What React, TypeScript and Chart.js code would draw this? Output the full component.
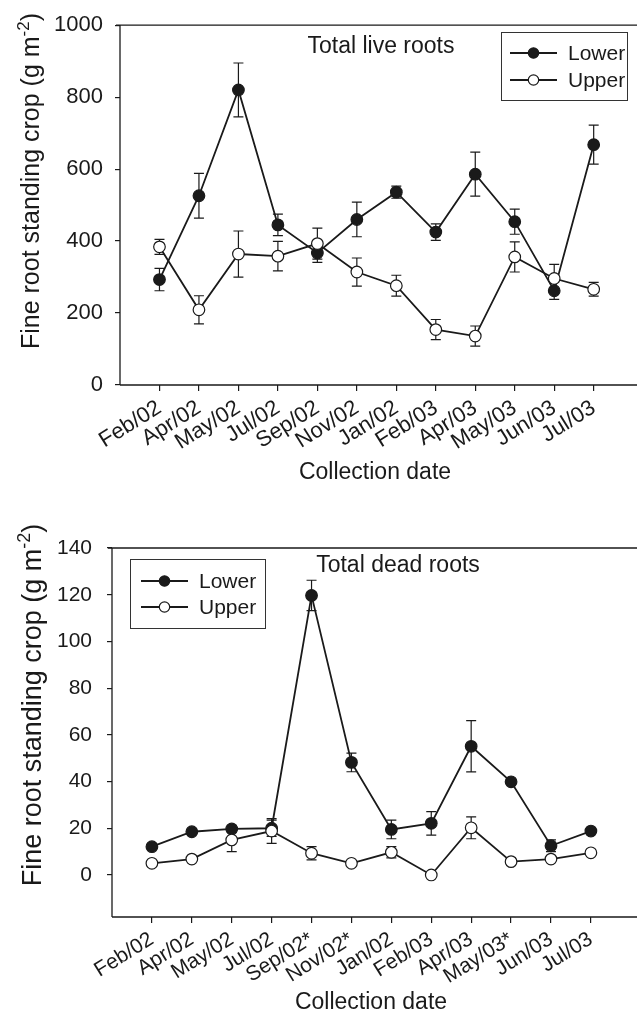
import React, { useEffect, useRef } from 'react';
import { Chart, registerables } from 'chart.js';

Chart.register(...registerables);

// ---- data ----
const liveCategories = ['Feb/02', 'Apr/02', 'May/02', 'Jul/02', 'Sep/02', 'Nov/02', 'Jan/02', 'Feb/03', 'Apr/03', 'May/03', 'Jun/03', 'Jul/03'];
const deadCategories = ['Feb/02', 'Apr/02', 'May/02', 'Jul/02', 'Sep/02*', 'Nov/02*', 'Jan/02', 'Feb/03', 'Apr/03', 'May/03*', 'Jun/03', 'Jul/03'];

const liveLower = [293, 526, 820, 445, 367, 460, 536, 425, 586, 454, 262, 668];
const liveLowerErr = [31, 62, 75, 30, 26, 48, 17, 23, 61, 35, 24, 54];
const liveUpper = [384, 209, 364, 358, 393, 314, 276, 154, 136, 356, 296, 266];
const liveUpperErr = [21, 39, 64, 41, 43, 39, 29, 28, 28, 42, 39, 19];

const deadLower = [12.1, 18.5, 19.7, 20.0, 119.7, 48.2, 19.5, 22.1, 55.1, 39.9, 12.5, 18.8];
const deadLowerErr = [1, 1, 1.5, 3.5, 6.5, 4, 4, 5, 11, 1, 2.5, 1];
const deadUpper = [5.0, 6.8, 15.0, 18.8, 9.3, 5.0, 9.7, 0, 20.2, 5.7, 6.8, 9.5];
const deadUpperErr = [0.5, 0.5, 5, 5.3, 2.8, 0.5, 2.4, 0.3, 4.7, 1.5, 0.5, 0.5];

const liveYTicks = [0, 200, 400, 600, 800, 1000];
const deadYTicks = [0, 20, 40, 60, 80, 100, 120, 140];

const seriesNames = ['Lower', 'Upper'];
const xTitle = 'Collection date';
const yTitleMain = 'Fine root standing crop (g m';
const yTitleSup = '-2';
const yTitleEnd = ')';

const FONT = '"Liberation Sans", Arial, Helvetica, sans-serif';
const INK = '#1a1a1a';

type PanelCfg = {
  height: number;
  categories: string[];
  lower: number[];
  lowerErr: number[];
  upper: number[];
  upperErr: number[];
  yTicks: number[];
  yMin: number;
  yMax: number;
  xMax: number;
  padTop: number;
  yAxisWidth: number;
  xAxisHeight: number;
  tickFont: number;
  yLabelPad: number;
  title: string;
  titleX: number;
  titleY: number;
  legendBox: [number, number, number, number];
  legendLine: [number, number];
  legendRows: [number, number];
  legendTextX: number;
  yTitleX: number;
  yTitleY: number;
  yTitleSize: number;
  xTitleY: number;
};

function drawYTitle(ctx: CanvasRenderingContext2D, cx: number, cy: number, size: number) {
  ctx.save();
  ctx.translate(cx, cy);
  ctx.rotate(-Math.PI / 2);
  ctx.fillStyle = INK;
  ctx.textBaseline = 'alphabetic';
  ctx.textAlign = 'left';
  const mainFont = `${size}px ${FONT}`;
  const supFont = `${Math.round(size * 0.68)}px ${FONT}`;
  ctx.font = mainFont;
  const w1 = ctx.measureText(yTitleMain).width;
  const w3 = ctx.measureText(yTitleEnd).width;
  ctx.font = supFont;
  const w2 = ctx.measureText(yTitleSup).width;
  const total = w1 + w2 + w3;
  const x0 = -total / 2;
  const base = size * 0.36;
  ctx.font = mainFont;
  ctx.fillText(yTitleMain, x0, base);
  ctx.font = supFont;
  ctx.fillText(yTitleSup, x0 + w1, base - size * 0.4);
  ctx.font = mainFont;
  ctx.fillText(yTitleEnd, x0 + w1 + w2, base);
  ctx.restore();
}

function makeDecor(cfg: PanelCfg) {
  return {
    id: 'decor',
    beforeDatasetsDraw(chart: any) {
      const ctx = chart.ctx as CanvasRenderingContext2D;
      const ys = chart.scales.y;
      const errs = [cfg.lowerErr, cfg.upperErr];
      const vals = [cfg.lower, cfg.upper];
      ctx.save();
      ctx.strokeStyle = INK;
      ctx.lineWidth = 1.2;
      for (let d = 0; d < 2; d++) {
        const meta = chart.getDatasetMeta(d);
        meta.data.forEach((pt: any, j: number) => {
          const v = vals[d][j];
          const e = errs[d][j];
          const yt = ys.getPixelForValue(v + e);
          const yb = ys.getPixelForValue(v - e);
          const x = pt.x;
          const cap = 5;
          ctx.beginPath();
          ctx.moveTo(x, yt);
          ctx.lineTo(x, yb);
          ctx.moveTo(x - cap, yt);
          ctx.lineTo(x + cap, yt);
          ctx.moveTo(x - cap, yb);
          ctx.lineTo(x + cap, yb);
          ctx.stroke();
        });
      }
      ctx.restore();
    },
    afterDraw(chart: any) {
      const ctx = chart.ctx as CanvasRenderingContext2D;
      const a = chart.chartArea;
      const W = chart.width;
      ctx.save();
      // axis frame
      ctx.strokeStyle = INK;
      ctx.lineWidth = 1.3;
      ctx.beginPath();
      ctx.moveTo(a.left, a.top);
      ctx.lineTo(a.left, a.bottom);
      ctx.moveTo(a.left - 4, a.top);
      ctx.lineTo(W, a.top);
      ctx.moveTo(a.left, a.bottom);
      ctx.lineTo(W, a.bottom);
      ctx.stroke();

      // panel title
      ctx.fillStyle = INK;
      ctx.font = `23px ${FONT}`;
      ctx.textAlign = 'center';
      ctx.textBaseline = 'middle';
      ctx.fillText(cfg.title, cfg.titleX, cfg.titleY);

      // x title
      ctx.fillText(xTitle, (a.left + a.right) / 2, cfg.xTitleY);

      // y title
      drawYTitle(ctx, cfg.yTitleX, cfg.yTitleY, cfg.yTitleSize);

      // legend
      const [bx0, by0, bx1, by1] = cfg.legendBox;
      ctx.strokeStyle = '#333';
      ctx.lineWidth = 1;
      ctx.strokeRect(bx0 + 0.5, by0 + 0.5, bx1 - bx0, by1 - by0);
      const [lx0, lx1] = cfg.legendLine;
      cfg.legendRows.forEach((ry, i) => {
        ctx.strokeStyle = INK;
        ctx.lineWidth = 1.8;
        ctx.beginPath();
        ctx.moveTo(lx0, ry);
        ctx.lineTo(lx1, ry);
        ctx.stroke();
        ctx.beginPath();
        ctx.arc((lx0 + lx1) / 2, ry, 5.2, 0, Math.PI * 2);
        ctx.fillStyle = i === 0 ? INK : '#ffffff';
        ctx.fill();
        ctx.lineWidth = 1.2;
        ctx.stroke();
        ctx.fillStyle = INK;
        ctx.font = `21px ${FONT}`;
        ctx.textAlign = 'left';
        ctx.textBaseline = 'middle';
        ctx.fillText(seriesNames[i], cfg.legendTextX, ry + 1);
      });
      ctx.restore();
    },
  };
}

function buildConfig(cfg: PanelCfg): any {
  const ds = (vals: number[], filled: boolean, order: number, label: string) => ({
    label,
    data: vals.map((v, i) => ({ x: i, y: v })),
    borderColor: INK,
    backgroundColor: filled ? INK : '#ffffff',
    pointBackgroundColor: filled ? INK : '#ffffff',
    pointBorderColor: INK,
    pointBorderWidth: 1.2,
    pointRadius: 5.8,
    borderWidth: 1.8,
    tension: 0,
    fill: false,
    order,
  });
  return {
    type: 'line',
    data: {
      datasets: [
        ds(cfg.lower, true, 2, seriesNames[0]),
        ds(cfg.upper, false, 1, seriesNames[1]),
      ],
    },
    options: {
      animation: false,
      responsive: false,
      devicePixelRatio: 1,
      layout: { padding: { top: cfg.padTop, left: 0, right: 0, bottom: 0 } },
      plugins: { legend: { display: false }, tooltip: { enabled: false }, title: { display: false } },
      scales: {
        x: {
          type: 'linear',
          min: -1,
          max: cfg.xMax,
          afterBuildTicks: (s: any) => {
            s.ticks = cfg.categories.map((_, i) => ({ value: i }));
          },
          afterFit: (s: any) => {
            s.height = cfg.xAxisHeight;
          },
          ticks: {
            callback: (v: any) => cfg.categories[Math.round(Number(v))] ?? '',
            minRotation: 32,
            maxRotation: 32,
            autoSkip: false,
            padding: 4,
            color: INK,
            font: { family: FONT, size: cfg.tickFont },
          },
          grid: { drawOnChartArea: false, drawTicks: true, tickLength: 6, color: INK, lineWidth: 1.2 },
          border: { display: false },
        },
        y: {
          type: 'linear',
          min: cfg.yMin,
          max: cfg.yMax,
          afterBuildTicks: (s: any) => {
            s.ticks = cfg.yTicks.map((v) => ({ value: v }));
          },
          afterFit: (s: any) => {
            s.width = cfg.yAxisWidth;
          },
          ticks: {
            callback: (v: any) => String(v),
            padding: cfg.yLabelPad,
            color: INK,
            font: { family: FONT, size: cfg.tickFont },
          },
          grid: { drawOnChartArea: false, drawTicks: true, tickLength: 5, color: INK, lineWidth: 1.2 },
          border: { display: false },
        },
      },
    },
    plugins: [makeDecor(cfg)],
  };
}

const livePanel: PanelCfg = {
  height: 500,
  categories: liveCategories,
  lower: liveLower,
  lowerErr: liveLowerErr,
  upper: liveUpper,
  upperErr: liveUpperErr,
  yTicks: liveYTicks,
  yMin: 0,
  yMax: 1000,
  xMax: 11.92,
  padTop: 19,
  yAxisWidth: 120,
  xAxisHeight: 115,
  tickFont: 22,
  yLabelPad: 12,
  title: 'Total live roots',
  titleX: 381,
  titleY: 47,
  legendBox: [501, 32, 627, 100],
  legendLine: [510, 557],
  legendRows: [53, 80],
  legendTextX: 568,
  yTitleX: 30,
  yTitleY: 181,
  yTitleSize: 25,
  xTitleY: 473,
};

const deadPanel: PanelCfg = {
  height: 514,
  categories: deadCategories,
  lower: deadLower,
  lowerErr: deadLowerErr,
  upper: deadUpper,
  upperErr: deadUpperErr,
  yTicks: deadYTicks,
  yMin: -18,
  yMax: 140,
  xMax: 11.98,
  padTop: 48,
  yAxisWidth: 112,
  xAxisHeight: 97,
  tickFont: 21,
  yLabelPad: 15,
  title: 'Total dead roots',
  titleX: 398,
  titleY: 66,
  legendBox: [130, 59, 265, 128],
  legendLine: [141, 188],
  legendRows: [81, 107],
  legendTextX: 199,
  yTitleX: 31,
  yTitleY: 205,
  yTitleSize: 27,
  xTitleY: 503,
};

function Panel({ cfg, top }: { cfg: PanelCfg; top: number }) {
  const ref = useRef<HTMLCanvasElement | null>(null);
  useEffect(() => {
    if (!ref.current) return;
    const chart = new Chart(ref.current, buildConfig(cfg));
    return () => chart.destroy();
  }, [cfg]);
  return (
    <canvas
      ref={ref}
      width={637}
      height={cfg.height}
      style={{ position: 'absolute', left: 0, top, width: 637, height: cfg.height, display: 'block' }}
    />
  );
}

export default function App() {
  return (
    <div style={{ position: 'absolute', left: 0, top: 0, width: 637, height: 1014, background: '#ffffff', overflow: 'hidden' }}>
      <Panel cfg={livePanel} top={0} />
      <Panel cfg={deadPanel} top={500} />
    </div>
  );
}
